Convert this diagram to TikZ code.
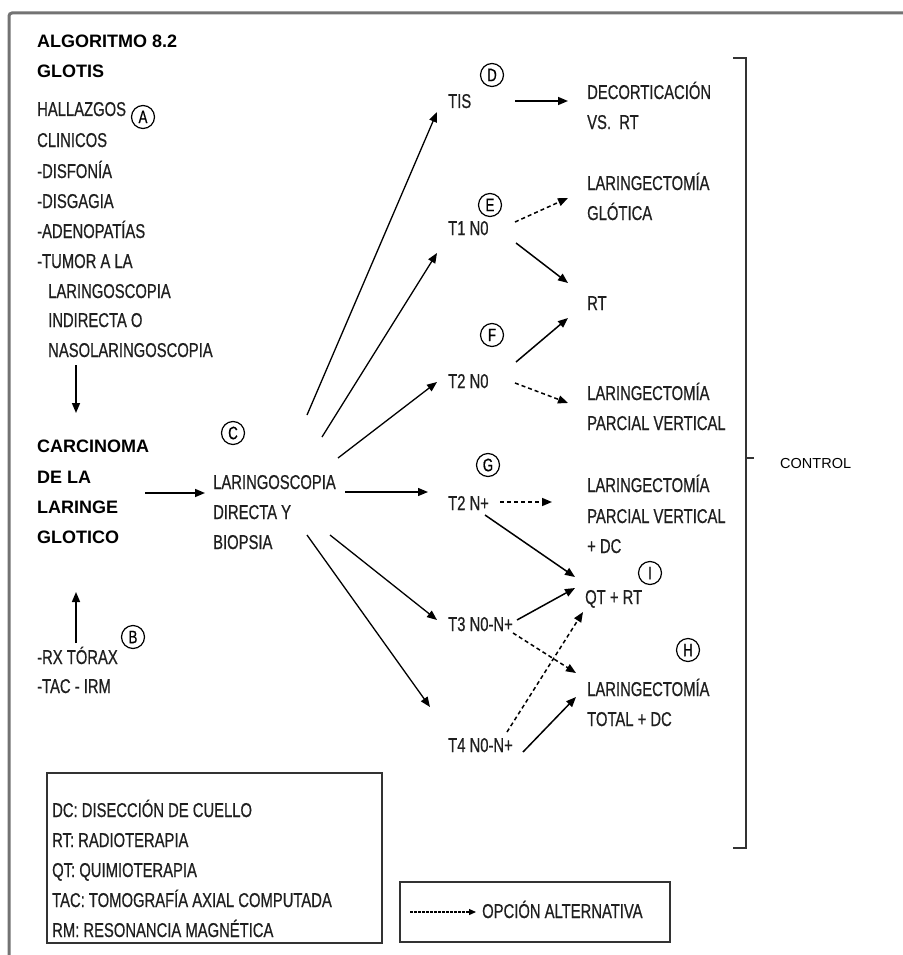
\documentclass[tikz,border=0pt]{standalone}
\usepackage{fontspec}
\setmainfont{Liberation Sans}
\newfontfamily\narrowf[FakeStretch=0.74,FakeBold=0.6]{Liberation Sans}
\usetikzlibrary{arrows.meta}
\tikzset{
  nt/.style={font=\narrowf\fontsize{20}{22}\selectfont, inner sep=0pt, anchor=base west, text=black!88},
  bt/.style={font=\bfseries\fontsize{18}{21}\selectfont, inner sep=0pt, anchor=base west},
  ct/.style={font=\fontsize{14.5}{17}\selectfont, inner sep=0pt, anchor=base west},
  circ/.style={draw, circle, minimum size=23pt, inner sep=0pt, line width=1.2pt, font=\narrowf\fontsize{18}{18}\selectfont},
  arr/.style={-{Triangle[length=10pt,width=8pt]}, line width=1.5pt},
  darr/.style={arr, dash pattern=on 4pt off 3pt},
  fan/.style={arr, line width=1.3pt},
  boxline/.style={draw=black!80, line width=1.3pt},
}
\begin{document}
\begin{tikzpicture}[x=1pt,y=-1pt]
\useasboundingbox (0,0) rectangle (902,955);
\fill[white] (0,0) rectangle (902,955);
% outer frame
\draw[gray!90!black, line width=3pt, rounded corners=3pt] (910,13) -- (9,13) -- (9,965);

% title
\node[bt] (t1) at (37,48) {ALGORITMO 8.2};
\node[bt] (t2) at (37,78) {GLOTIS};

% findings
\node[nt] (h1) at (37,116) {HALLAZGOS};
\node[circ] (cA) at (143,117) {A};
\node[nt] (h2) at (37,147) {CLINICOS};
\node[nt] (h3) at (37,178) {-DISFONÍA};
\node[nt] (h4) at (37,208) {-DISGAGIA};
\node[nt] (h5) at (37,238) {-ADENOPATÍAS};
\node[nt] (h6) at (37,268) {-TUMOR A LA};
\node[nt] (h7) at (48,298) {LARINGOSCOPIA};
\node[nt] (h8) at (48,327) {INDIRECTA O};
\node[nt] (h9) at (48,357) {NASOLARINGOSCOPIA};

% carcinoma
\node[bt] (k1) at (37,452) {CARCINOMA};
\node[bt] (k2) at (37,483) {DE LA};
\node[bt] (k3) at (37,513) {LARINGE};
\node[bt] (k4) at (37,543) {GLOTICO};

\coordinate (h9s) at (76,365);
\coordinate (k1n) at (76,413);
\draw[arr] (h9s) -- (k1n);

% imaging
\node[nt] (r1) at (37,664) {-RX TÓRAX};
\node[nt] (r2) at (37,693) {-TAC - IRM};
\node[circ] (cB) at (133,637) {B};
\coordinate (r1n) at (76,643);
\coordinate (k4s) at (76,592);
\draw[arr] (r1n) -- (k4s);

% laringoscopia directa
\node[circ] (cC) at (233,433) {C};
\node[nt] (l1) at (213,489) {LARINGOSCOPIA};
\node[nt] (l2) at (213,519) {DIRECTA Y};
\node[nt] (l3) at (213,549) {BIOPSIA};
\coordinate (k2e) at (145,493);
\coordinate (l1w) at (205,493);
\draw[arr] (k2e) -- (l1w);

% stages
\node[nt] (tis) at (448,108) {TIS};
\node[circ] (cD) at (492,75) {D};
\node[nt] (t1n0) at (448,235) {T1 N0};
\node[circ] (cE) at (490,205) {E};
\node[circ] (cF) at (492,335) {F};
\node[nt] (t2n0) at (448,388) {T2 N0};
\node[circ] (cG) at (488,465) {G};
\node[nt] (t2np) at (448,510) {T2 N+};
\node[nt] (t3) at (448,631) {T3 N0-N+};
\node[nt] (t4) at (448,752) {T4 N0-N+};

% fan coordinates
\coordinate (f1s) at (307,415); \coordinate (f1e) at (437,112);
\coordinate (f2s) at (322,437); \coordinate (f2e) at (437,253);
\coordinate (f3s) at (338,458); \coordinate (f3e) at (437,382);
\coordinate (f4s) at (345,492); \coordinate (f4e) at (428,492);
\coordinate (f5s) at (330,535); \coordinate (f5e) at (437,620);
\coordinate (f6s) at (307,535); \coordinate (f6e) at (430,707);
\draw[fan] (f1s) -- (f1e);
\draw[fan] (f2s) -- (f2e);
\draw[fan] (f3s) -- (f3e);
\draw[fan] (f4s) -- (f4e);
\draw[fan] (f5s) -- (f5e);
\draw[fan] (f6s) -- (f6e);

% treatments
\node[nt] (d1) at (587,99) {DECORTICACIÓN};
\node[nt] (d2) at (587,129) {VS.\ \ RT};
\node[nt] (e1) at (587,190) {LARINGECTOMÍA};
\node[nt] (e2) at (587,220) {GLÓTICA};
\node[nt] (rt) at (587,310) {RT};
\node[nt] (p1) at (587,400) {LARINGECTOMÍA};
\node[nt] (p2) at (587,430) {PARCIAL VERTICAL};
\node[nt] (g1) at (587,492) {LARINGECTOMÍA};
\node[nt] (g2) at (587,523) {PARCIAL VERTICAL};
\node[nt] (g3) at (587,553) {+ DC};
\node[nt] (qr) at (585,604) {QT + RT};
\node[circ] (cI) at (650,573) {I};
\node[circ] (cH) at (688,650) {H};
\node[nt] (tt1) at (587,696) {LARINGECTOMÍA};
\node[nt] (tt2) at (587,726) {TOTAL + DC};

% stage -> treatment arrows
\coordinate (a1s) at (515,101); \coordinate (a1e) at (568,101);
\draw[arr] (a1s) -- (a1e);
\coordinate (b1s) at (515,222); \coordinate (b1e) at (568,198);
\draw[darr] (b1s) -- (b1e);
\coordinate (b2s) at (516,243); \coordinate (b2e) at (568,283);
\draw[arr] (b2s) -- (b2e);
\coordinate (c1s) at (516,362); \coordinate (c1e) at (568,318);
\draw[arr] (c1s) -- (c1e);
\coordinate (c2s) at (515,383); \coordinate (c2e) at (568,403);
\draw[darr] (c2s) -- (c2e);
\coordinate (g1s) at (500,502); \coordinate (g1e) at (552,502);
\draw[darr] (g1s) -- (g1e);
\coordinate (g2s) at (485,515); \coordinate (g2e) at (575,577);
\draw[arr] (g2s) -- (g2e);
\coordinate (h1s) at (517,620); \coordinate (h1e) at (575,588);
\draw[arr] (h1s) -- (h1e);
\coordinate (h2s) at (513,633); \coordinate (h2e) at (576,673);
\draw[darr] (h2s) -- (h2e);
\coordinate (i1s) at (507,732); \coordinate (i1e) at (583,612);
\draw[darr] (i1s) -- (i1e);
\coordinate (i2s) at (523,752); \coordinate (i2e) at (576,697);
\draw[arr] (i2s) -- (i2e);

% control bracket
\draw[black!80, line width=1.4pt] (733,58) -- (746,58) -- (746,848) -- (733,848);
\coordinate (brk) at (746,458);
\coordinate (brkt) at (754,458);
\draw[black!80, line width=1.2pt] (brk) -- (brkt);
\node[ct] (ctrl) at (780,468) {CONTROL};

% legend 1
\draw[boxline] (47,773) rectangle (382,943);
\node[nt] (lg1) at (52,817) {DC: DISECCIÓN DE CUELLO};
\node[nt] (lg2) at (52,847) {RT: RADIOTERAPIA};
\node[nt] (lg3) at (52,877) {QT: QUIMIOTERAPIA};
\node[nt] (lg4) at (52,907) {TAC: TOMOGRAFÍA AXIAL COMPUTADA};
\node[nt] (lg5) at (52,937) {RM: RESONANCIA MAGNÉTICA};

% legend 2
\draw[boxline] (400,882) rectangle (670,942);
\coordinate (ls) at (410,912);
\coordinate (le) at (476,912);
\draw[-{Triangle[length=7pt,width=6pt]}, line width=1.2pt, dash pattern=on 2.5pt off 1.5pt] (ls) -- (le);
\node[nt] (lgo) at (482,918) {OPCIÓN ALTERNATIVA};
\end{tikzpicture}
\end{document}
